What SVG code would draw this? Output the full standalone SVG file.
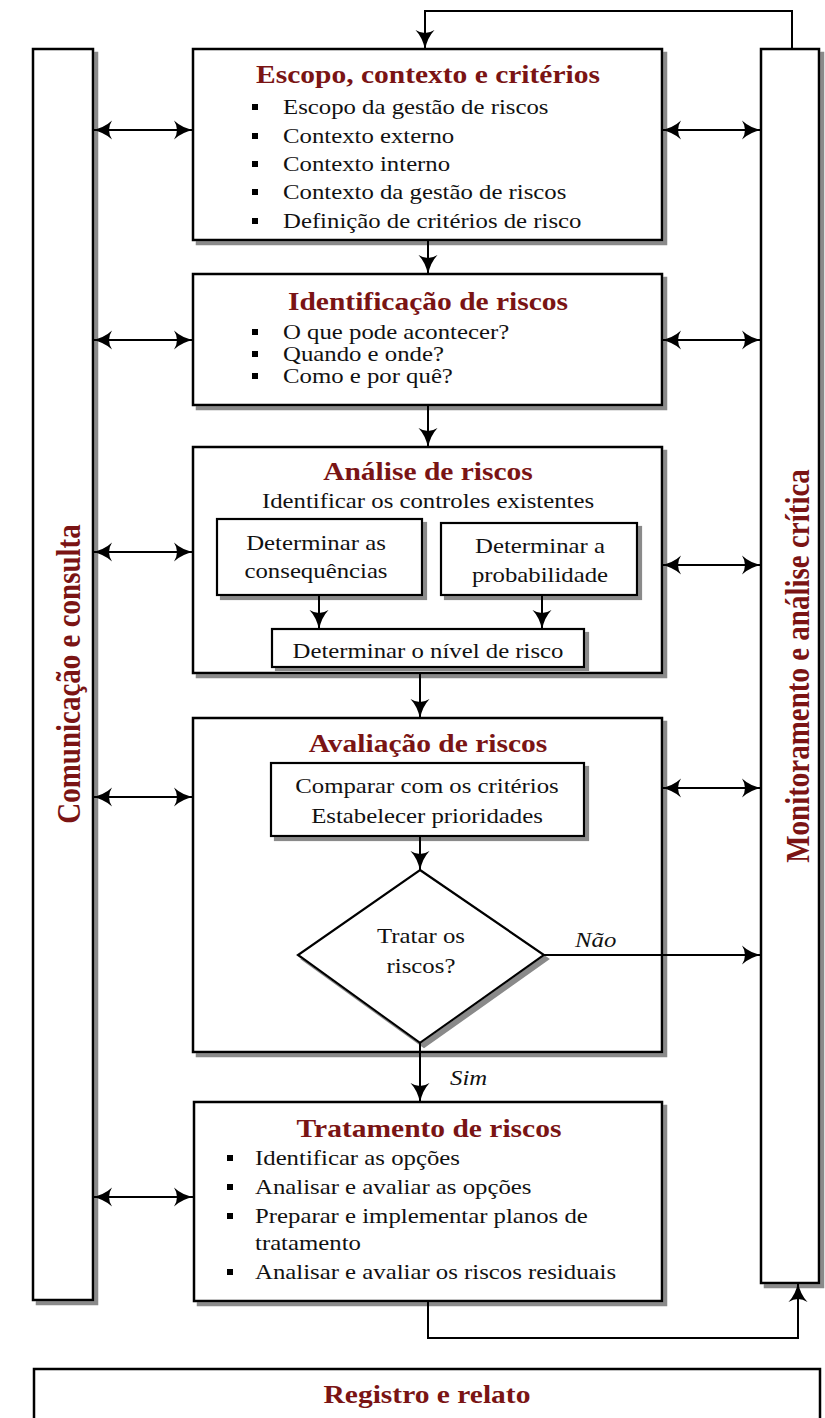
<svg xmlns="http://www.w3.org/2000/svg" width="825" height="1418" viewBox="0 0 825 1418">
<defs>
<marker id="ah" viewBox="0 0 20 20" refX="19" refY="10" markerWidth="20" markerHeight="20" markerUnits="userSpaceOnUse" orient="auto-start-reverse">
<path d="M0,0.5 Q8,8 20,10 Q8,12 0,19.5 Q6,10 0,0.5 z" fill="#000"/>
</marker>
<filter id="sh" x="-5%" y="-5%" width="115%" height="115%">
<feOffset dx="4" dy="4" in="SourceAlpha" result="o"/>
<feFlood flood-color="#8a8a8a"/>
<feComposite in2="o" operator="in" result="s"/>
<feMerge><feMergeNode in="s"/><feMergeNode in="SourceGraphic"/></feMerge>
</filter>
</defs>
<style>
.box{fill:#fff;stroke:#000;stroke-width:2.5}
.sub{fill:#fff;stroke:#000;stroke-width:2.2}
.t{font-family:"Liberation Serif","Times New Roman",serif;font-weight:bold;font-size:25px;fill:#7a1414;text-anchor:middle}
.v{font-family:"Liberation Serif","Times New Roman",serif;font-weight:bold;font-size:29px;fill:#7a1414;text-anchor:middle}
.tx{font-family:"Liberation Serif","Times New Roman",serif;font-size:21px;fill:#111}
.c{text-anchor:middle}
.it{font-family:"Liberation Serif","Times New Roman",serif;font-style:italic;font-size:21px;fill:#111}
.ln{fill:none;stroke:#000;stroke-width:2}
.bl{fill:#000}
</style>
<rect width="825" height="1418" fill="#fff"/>

<g id="comunicacao">
<rect class="box" x="33" y="49" width="60" height="1251" filter="url(#sh)"/>
<text class="v" transform="translate(80,674) rotate(-90) scale(1,1.18)">Comunicação e consulta</text>
</g>

<g id="monitoramento">
<rect class="box" x="761" y="49" width="58" height="1234" filter="url(#sh)"/>
<text class="v" transform="translate(809,666) rotate(-90) scale(1,1.18)">Monitoramento e análise crítica</text>
</g>

<g id="escopo">
<rect class="box" x="193" y="49" width="469" height="191" filter="url(#sh)"/>
<text class="t" transform="translate(428,83) scale(1.18,1)">Escopo, contexto e critérios</text>
<rect class="bl" x="252" y="104" width="6" height="6"/>
<rect class="bl" x="252" y="133" width="6" height="6"/>
<rect class="bl" x="252" y="161" width="6" height="6"/>
<rect class="bl" x="252" y="189" width="6" height="6"/>
<rect class="bl" x="252" y="218" width="6" height="6"/>
<text class="tx" transform="translate(283,114) scale(1.18,1)">Escopo da gestão de riscos</text>
<text class="tx" transform="translate(283,143) scale(1.18,1)">Contexto externo</text>
<text class="tx" transform="translate(283,171) scale(1.18,1)">Contexto interno</text>
<text class="tx" transform="translate(283,199) scale(1.18,1)">Contexto da gestão de riscos</text>
<text class="tx" transform="translate(283,228) scale(1.18,1)">Definição de critérios de risco</text>
</g>

<g id="identificacao">
<rect class="box" x="193" y="274" width="469" height="131" filter="url(#sh)"/>
<text class="t" transform="translate(428,310) scale(1.18,1)">Identificação de riscos</text>
<rect class="bl" x="252" y="329" width="6" height="6"/>
<rect class="bl" x="252" y="351" width="6" height="6"/>
<rect class="bl" x="252" y="373" width="6" height="6"/>
<text class="tx" transform="translate(283,339) scale(1.18,1)">O que pode acontecer?</text>
<text class="tx" transform="translate(283,361) scale(1.18,1)">Quando e onde?</text>
<text class="tx" transform="translate(283,383) scale(1.18,1)">Como e por quê?</text>
</g>

<g id="analise">
<rect class="box" x="193" y="447" width="469" height="226" filter="url(#sh)"/>
<text class="t" transform="translate(428,480) scale(1.18,1)">Análise de riscos</text>
<text class="tx c" transform="translate(428,508) scale(1.18,1)">Identificar os controles existentes</text>
</g>
<g id="consequencias">
<rect class="sub" x="217" y="519" width="205" height="76" filter="url(#sh)"/>
<text class="tx c" transform="translate(316,550) scale(1.18,1)">Determinar as</text>
<text class="tx c" transform="translate(316,578) scale(1.18,1)">consequências</text>
</g>
<g id="probabilidade">
<rect class="sub" x="441" y="523" width="196" height="72" filter="url(#sh)"/>
<text class="tx c" transform="translate(540,553) scale(1.18,1)">Determinar a</text>
<text class="tx c" transform="translate(540,582) scale(1.18,1)">probabilidade</text>
</g>
<g id="nivel">
<rect class="sub" x="272" y="629" width="312" height="38" filter="url(#sh)"/>
<text class="tx c" transform="translate(428,658) scale(1.18,1)">Determinar o nível de risco</text>
</g>

<g id="avaliacao">
<rect class="box" x="193" y="718" width="469" height="334" filter="url(#sh)"/>
<text class="t" transform="translate(428,752) scale(1.18,1)">Avaliação de riscos</text>
</g>
<g id="comparar">
<rect class="sub" x="271" y="763" width="313" height="73" filter="url(#sh)"/>
<text class="tx c" transform="translate(427,793) scale(1.18,1)">Comparar com os critérios</text>
<text class="tx c" transform="translate(427,823) scale(1.18,1)">Estabelecer prioridades</text>
</g>
<g id="decisao">
<polygon points="420,870 544,955 420,1043 298,955" fill="#fff" stroke="#000" stroke-width="2.2" filter="url(#sh)"/>
<text class="tx c" transform="translate(421,943) scale(1.18,1)">Tratar os</text>
<text class="tx c" transform="translate(421,973) scale(1.18,1)">riscos?</text>
</g>

<g id="tratamento">
<rect class="box" x="194" y="1102" width="468" height="199" filter="url(#sh)"/>
<text class="t" transform="translate(429,1137) scale(1.18,1)">Tratamento de riscos</text>
<rect class="bl" x="227" y="1155" width="6" height="6"/>
<rect class="bl" x="227" y="1184" width="6" height="6"/>
<rect class="bl" x="227" y="1213" width="6" height="6"/>
<rect class="bl" x="227" y="1269" width="6" height="6"/>
<text class="tx" transform="translate(255,1165) scale(1.18,1)">Identificar as opções</text>
<text class="tx" transform="translate(255,1194) scale(1.18,1)">Analisar e avaliar as opções</text>
<text class="tx" transform="translate(255,1223) scale(1.18,1)">Preparar e implementar planos de</text>
<text class="tx" transform="translate(255,1250) scale(1.18,1)">tratamento</text>
<text class="tx" transform="translate(255,1279) scale(1.18,1)">Analisar e avaliar os riscos residuais</text>
</g>

<g id="registro">
<rect class="box" x="34" y="1369" width="786" height="80"/>
<text class="t" transform="translate(427,1403) scale(1.18,1)">Registro e relato</text>
</g>

<g id="connectors">
<path class="ln" d="M792,49 V11 H425 V49" marker-end="url(#ah)"/>
<path class="ln" d="M428,240 V274" marker-end="url(#ah)"/>
<path class="ln" d="M428,405 V447" marker-end="url(#ah)"/>
<path class="ln" d="M319,595 V629" marker-end="url(#ah)"/>
<path class="ln" d="M542,595 V629" marker-end="url(#ah)"/>
<path class="ln" d="M420,673 V718" marker-end="url(#ah)"/>
<path class="ln" d="M420,836 V870" marker-end="url(#ah)"/>
<path class="ln" d="M544,955 H761" marker-end="url(#ah)"/>
<path class="ln" d="M420,1043 V1102" marker-end="url(#ah)"/>
<path class="ln" d="M428,1301 V1338 H798 V1283" marker-end="url(#ah)"/>
<path class="ln" d="M93,130 H193" marker-start="url(#ah)" marker-end="url(#ah)"/>
<path class="ln" d="M662,130 H761" marker-start="url(#ah)" marker-end="url(#ah)"/>
<path class="ln" d="M93,340 H193" marker-start="url(#ah)" marker-end="url(#ah)"/>
<path class="ln" d="M662,340 H761" marker-start="url(#ah)" marker-end="url(#ah)"/>
<path class="ln" d="M93,552 H193" marker-start="url(#ah)" marker-end="url(#ah)"/>
<path class="ln" d="M662,565 H761" marker-start="url(#ah)" marker-end="url(#ah)"/>
<path class="ln" d="M93,797 H193" marker-start="url(#ah)" marker-end="url(#ah)"/>
<path class="ln" d="M662,788 H761" marker-start="url(#ah)" marker-end="url(#ah)"/>
<path class="ln" d="M93,1197 H193" marker-start="url(#ah)" marker-end="url(#ah)"/>
<text class="it" transform="translate(575,947) scale(1.18,1)">Não</text>
<text class="it" transform="translate(450,1085) scale(1.18,1)">Sim</text>
</g>
</svg>
